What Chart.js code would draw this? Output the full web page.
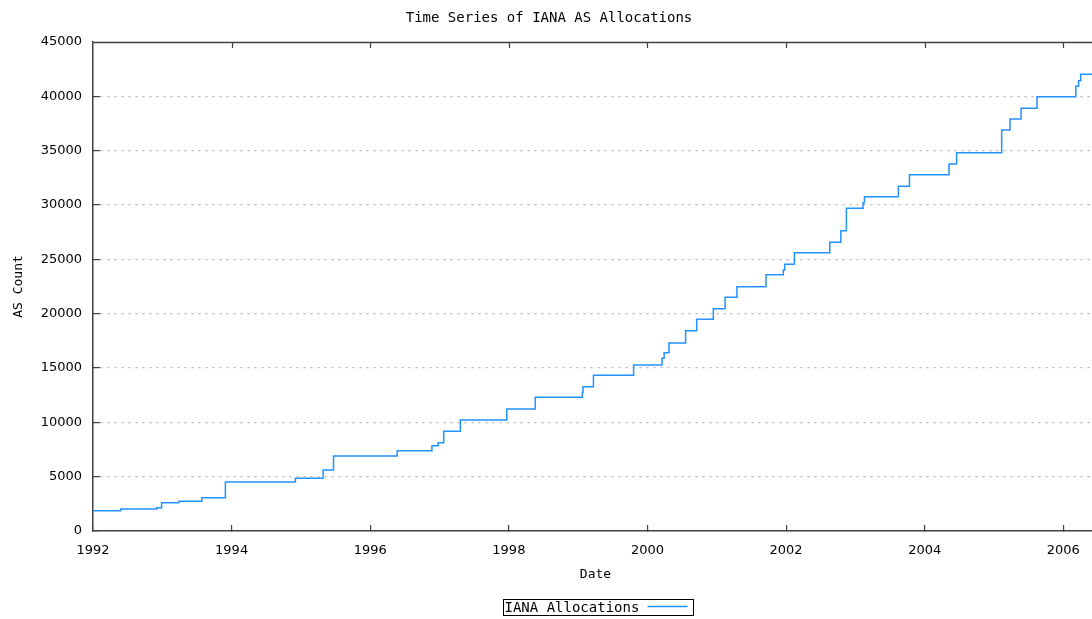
<!DOCTYPE html>
<html>
<head>
<meta charset="utf-8">
<script src="https://cdn.jsdelivr.net/npm/chart.js@4/dist/chart.umd.min.js"></script>
<style>
  html, body { margin: 0; padding: 0; background: #fff; overflow: hidden; }
  #wrap { position: relative; width: 1100px; height: 619px; }
</style>
</head>
<body>
<div id="wrap"><canvas id="c"></canvas></div>
<script>
// Step dates (decimal years) and cumulative AS counts
const stepDates = [
  1992.00, 1992.40, 1992.92, 1992.99, 1993.24, 1993.57, 1993.91, 1994.92,
  1995.32, 1995.47, 1996.39, 1996.89, 1996.98, 1997.06, 1997.30, 1997.97,
  1998.38, 1999.06, 1999.07, 1999.22, 1999.80, 2000.21, 2000.24, 2000.31,
  2000.55, 2000.71, 2000.95, 2001.12, 2001.29, 2001.71, 2001.96, 2001.98,
  2002.12, 2002.63, 2002.79, 2002.87, 2003.11, 2003.13, 2003.62, 2003.78,
  2004.35, 2004.46, 2005.11, 2005.23, 2005.39, 2005.62, 2006.18, 2006.22,
  2006.25, 2006.50
];
const asCounts = [
  1870, 2020, 2150, 2600, 2730, 3070, 4510, 4850,
  5610, 6900, 7390, 7850, 8130, 9170, 10210, 11230,
  12300, 12760, 13280, 14330, 15280, 15890, 16410, 17300,
  18430, 19480, 20460, 21500, 22480, 23590, 24020, 24540,
  25610, 26570, 27640, 29700, 30210, 30760, 31720, 32790,
  33770, 34810, 36900, 37910, 38900, 39970, 40920, 41440,
  42030, 42030
];
const xTicks = [1992, 1994, 1996, 1998, 2000, 2002, 2004, 2006];
const yTicks = [0, 5000, 10000, 15000, 20000, 25000, 30000, 35000, 40000, 45000];

const chartTitle = 'Time Series of IANA AS Allocations';
const xTitle = 'Date';
const yTitle = 'AS Count';
const seriesLabel = 'IANA Allocations';

const LINE_COLOR = '#2391ff';
const AXIS_COLOR = '#404040';
const MONO = '"DejaVu Sans Mono", "Liberation Mono", monospace';
const SANS = '"DejaVu Sans", "Liberation Sans", sans-serif';

const points = stepDates.map((d, i) => ({ x: d, y: asCounts[i] }));

const frameAndLegend = {
  id: 'frameAndLegend',
  afterDraw(chart) {
    const ctx = chart.ctx;
    const a = chart.chartArea;
    ctx.save();
    ctx.strokeStyle = AXIS_COLOR;
    ctx.lineWidth = 1.5;
    ctx.beginPath();
    ctx.moveTo(a.left, a.top + 0.5);
    ctx.lineTo(a.right, a.top + 0.5);
    ctx.stroke();
    // mirrored ticks on the top border
    const xs = chart.scales.x;
    ctx.lineWidth = 1.2;
    xTicks.slice(1).forEach(t => {
      const px = Math.round(xs.getPixelForValue(t)) + 0.5;
      ctx.beginPath();
      ctx.moveTo(px, a.top);
      ctx.lineTo(px, a.top + 6);
      ctx.stroke();
    });
    // legend
    const ds = chart.data.datasets[0];
    ctx.font = '14px ' + MONO;
    const boxW = 190, boxH = 16;
    const cx = 598;
    const bx = Math.round(cx - boxW / 2) + 0.5, by = 599.5;
    ctx.strokeStyle = '#000';
    ctx.lineWidth = 1;
    ctx.strokeRect(bx, by, boxW, boxH);
    ctx.fillStyle = '#000';
    ctx.textBaseline = 'middle';
    ctx.textAlign = 'left';
    ctx.fillText(ds.label, bx + 1, by + boxH / 2 + 0.5);
    ctx.strokeStyle = ds.borderColor;
    ctx.lineWidth = 1.5;
    ctx.beginPath();
    ctx.moveTo(bx + 144, 606.5);
    ctx.lineTo(bx + 184, 606.5);
    ctx.stroke();
    ctx.restore();
  }
};

new Chart(document.getElementById('c'), {
  type: 'line',
  data: {
    datasets: [{
      label: seriesLabel,
      data: points,
      stepped: true,
      borderColor: LINE_COLOR,
      borderWidth: 1.5,
      pointRadius: 0,
      fill: false,
      tension: 0
    }]
  },
  options: {
    responsive: true,
    maintainAspectRatio: false,
    animation: false,
    events: [],
    layout: { padding: { left: 0, right: 2, top: 0, bottom: 0 } },
    plugins: {
      legend: { display: false },
      tooltip: { enabled: false },
      title: {
        display: true,
        text: chartTitle,
        color: '#000',
        font: { family: MONO, size: 14, weight: 'normal' },
        padding: { top: 10, bottom: 15.2 }
      }
    },
    scales: {
      x: {
        type: 'linear',
        min: 1992,
        max: 2006.5,
        afterBuildTicks(scale) { scale.ticks = xTicks.map(v => ({ value: v })); },
        afterFit(scale) { scale.height = 88; },
        ticks: {
          color: '#000',
          font: { family: SANS, size: 13 },
          padding: 18,
          maxRotation: 0,
          autoSkip: false,
          callback: v => String(v)
        },
        grid: {
          drawOnChartArea: false,
          drawTicks: true,
          tickLength: -6,
          color: AXIS_COLOR,
          lineWidth: 1.2
        },
        border: { display: true, color: AXIS_COLOR, width: 1.5 },
        title: {
          display: true,
          text: xTitle,
          color: '#000',
          font: { family: MONO, size: 13 },
          padding: { top: 0, bottom: 37 }
        }
      },
      y: {
        min: 0,
        max: 45000,
        afterBuildTicks(scale) { scale.ticks = yTicks.map(v => ({ value: v })); },
        afterFit(scale) { scale.width = 93; },
        ticks: {
          color: '#000',
          font: { family: SANS, size: 13 },
          padding: 18,
          autoSkip: false,
          callback: v => String(v)
        },
        grid: {
          drawOnChartArea: true,
          drawTicks: true,
          tickLength: -7,
          color: ctx => (ctx.tick && (ctx.tick.value === 0 || ctx.tick.value === 45000)) ? 'rgba(0,0,0,0)' : '#b4b4b4',
          tickColor: ctx => (ctx.tick && ctx.tick.value === 45000) ? 'rgba(0,0,0,0)' : AXIS_COLOR,
          lineWidth: 1.2,
          tickWidth: 1.2
        },
        border: { display: true, color: AXIS_COLOR, width: 1.5, dash: [2, 5] },
        title: {
          display: true,
          text: yTitle,
          color: '#000',
          font: { family: MONO, size: 13 },
          padding: { top: 11, bottom: 0 }
        }
      }
    }
  },
  plugins: [frameAndLegend]
});
</script>
</body>
</html>
